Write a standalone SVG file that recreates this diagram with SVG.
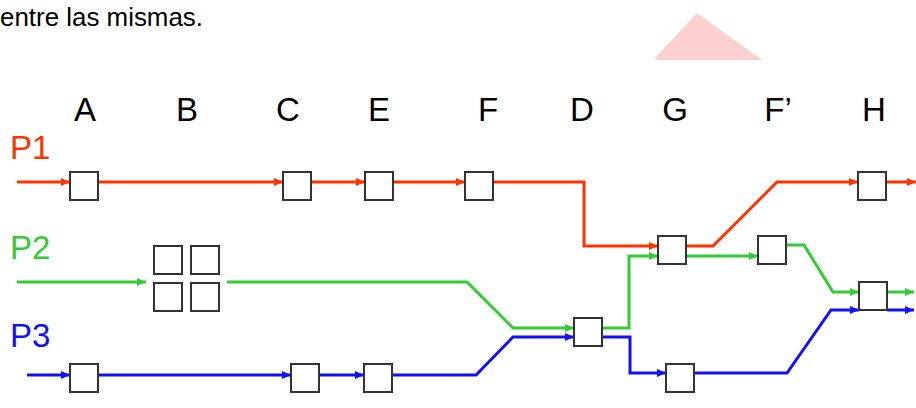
<svg xmlns="http://www.w3.org/2000/svg" width="916" height="408" viewBox="0 0 916 408">
<defs>
<marker id="ar" markerUnits="userSpaceOnUse" markerWidth="10" markerHeight="10" refX="9" refY="5" orient="auto"><path d="M0,1 L9,5 L0,9 Z" fill="#ff3300"/></marker>
<marker id="ag" markerUnits="userSpaceOnUse" markerWidth="10" markerHeight="10" refX="9" refY="5" orient="auto"><path d="M0,1 L9,5 L0,9 Z" fill="#33cc33"/></marker>
<marker id="ab" markerUnits="userSpaceOnUse" markerWidth="10" markerHeight="10" refX="9" refY="5" orient="auto"><path d="M0,1 L9,5 L0,9 Z" fill="#1010ff"/></marker>
</defs>
<style>
.box{fill:#fff;stroke:#333;stroke-width:2}
.lbl{font-family:"Liberation Sans",Arial,sans-serif;font-size:33px;fill:#000;text-anchor:middle}
.p{font-family:"Liberation Sans",Arial,sans-serif;font-size:33px}
.r{fill:none;stroke:#ff3300;stroke-width:3;marker-end:url(#ar)}
.g{fill:none;stroke:#33cc33;stroke-width:3;marker-end:url(#ag)}
.b{fill:none;stroke:#1010ff;stroke-width:3;marker-end:url(#ab)}
</style>
<rect width="916" height="408" fill="#fff"/>
<text x="0" y="26" font-family="Liberation Sans, Arial, sans-serif" font-size="26.5" fill="#000" textLength="203" lengthAdjust="spacingAndGlyphs">entre las mismas.</text>
<polygon points="655,58 697,13 762,60 657,60" fill="#fdd0d0"/>
<g id="columns">
<text class="lbl" x="85" y="121">A</text>
<text class="lbl" x="187" y="121">B</text>
<text class="lbl" x="288" y="121">C</text>
<text class="lbl" x="379" y="121">E</text>
<text class="lbl" x="488" y="121">F</text>
<text class="lbl" x="582" y="121">D</text>
<text class="lbl" x="675" y="121">G</text>
<text class="lbl" x="778" y="121">F’</text>
<text class="lbl" x="874" y="121">H</text>
</g>
<g id="labels">
<text class="p" x="10" y="159" fill="#ff3300">P1</text>
<text class="p" x="10" y="259" fill="#33cc33">P2</text>
<text class="p" x="10" y="347" fill="#1010ff">P3</text>
</g>
<g id="connectors">
<path class="r" d="M17,182 H70"/>
<path class="r" d="M99,182 H283"/>
<path class="r" d="M311,182 H365"/>
<path class="r" d="M393,182 H465"/>
<path class="r" d="M493,182 H584 V246 H658"/>
<path class="r" d="M686,246 H713 L777,182 H858"/>
<path class="r" d="M887,182 H916"/>
<path class="g" d="M17,282 H146"/>
<path class="g" d="M227,282 H467 L513,328 H574"/>
<path class="g" d="M603,328 H629 V256 H658"/>
<path class="g" d="M686,256 H758"/>
<path class="g" d="M787,245 H804 L833,292 H859"/>
<path class="g" d="M887,292 H914"/>
<path class="b" d="M27,375 H70"/>
<path class="b" d="M99,375 H291"/>
<path class="b" d="M319,375 H364"/>
<path class="b" d="M393,375 H476 L513,337 H574"/>
<path class="b" d="M603,337 H630 V373 H666"/>
<path class="b" d="M695,373 H787 L831,310 H859"/>
<path class="b" d="M887,310 H914"/>
</g>
<g id="A1"><rect class="box" x="70" y="172" width="28" height="28"/></g>
<g id="C1"><rect class="box" x="283" y="172" width="28" height="28"/></g>
<g id="E1"><rect class="box" x="365" y="172" width="28" height="28"/></g>
<g id="F1"><rect class="box" x="465" y="172" width="28" height="28"/></g>
<g id="G1"><rect class="box" x="658" y="236" width="28" height="28"/></g>
<g id="H1"><rect class="box" x="858" y="172" width="28" height="28"/></g>
<g id="B2">
<rect class="box" x="154" y="246" width="28" height="28"/>
<rect class="box" x="191" y="246" width="28" height="28"/>
<rect class="box" x="154" y="283" width="28" height="28"/>
<rect class="box" x="191" y="283" width="28" height="28"/>
</g>
<g id="D2"><rect class="box" x="574" y="318" width="28" height="28"/></g>
<g id="Fp2"><rect class="box" x="758" y="236" width="28" height="28"/></g>
<g id="H2"><rect class="box" x="859" y="282" width="28" height="28"/></g>
<g id="A3"><rect class="box" x="70" y="364" width="28" height="28"/></g>
<g id="C3"><rect class="box" x="291" y="364" width="28" height="28"/></g>
<g id="E3"><rect class="box" x="364" y="364" width="28" height="28"/></g>
<g id="G3"><rect class="box" x="666" y="364" width="28" height="28"/></g>
</svg>
